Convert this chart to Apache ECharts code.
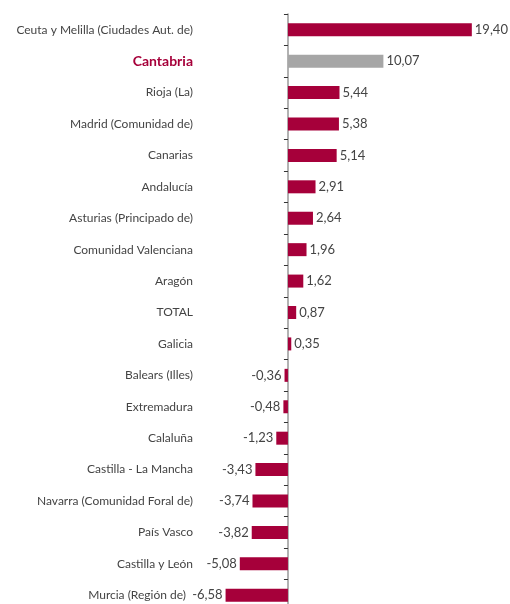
<!DOCTYPE html>
<html>
<head>
<meta charset="utf-8">
<title></title>
<style>
  html, body { margin: 0; padding: 0; background: #fff; }
</style>
</head>
<body>
<div id="container" style="height: 604px; width: 510px"></div>
<script type="text/javascript" src="https://cdn.jsdelivr.net/npm/echarts@6/dist/echarts.min.js"></script>
<script type="text/javascript">
var regiones = [
    'Ceuta y Melilla (Ciudades Aut. de)',
    'Cantabria',
    'Rioja (La)',
    'Madrid (Comunidad de)',
    'Canarias',
    'Andalucía',
    'Asturias (Principado de)',
    'Comunidad Valenciana',
    'Aragón',
    'TOTAL',
    'Galicia',
    'Balears (Illes)',
    'Extremadura',
    'Calaluña',
    'Castilla - La Mancha',
    'Navarra (Comunidad Foral de)',
    'País Vasco',
    'Castilla y León',
    'Murcia (Región de)'
];
var valores = [19.40, 10.07, 5.44, 5.38, 5.14, 2.91, 2.64, 1.96, 1.62, 0.87,
    0.35, -0.36, -0.48, -1.23, -3.43, -3.74, -3.82, -5.08, -6.58];
var destacada = 'Cantabria';

var rojo = '#a6003a';
var gris = '#a6a6a6';
var fuente = 'Lato';

function coma(v) {
    return v.toFixed(2).replace('.', ',');
}

var dom = document.getElementById('container');
var myChart = echarts.init(dom);

var option = {
    animation: false,
    // la rejilla sobresale por abajo: la última fila queda cortada como en el original
    grid: { left: 196, width: 309, top: 14, height: 597, outerBoundsMode: 'none' },
    xAxis: {
        type: 'value',
        min: -9.7,
        max: 22.9,
        show: false
    },
    yAxis: [{
        type: 'category',
        data: regiones,
        inverse: true,
        position: 'left',
        axisLine: { show: false, onZero: false },
        axisTick: { show: false },
        axisLabel: {
            margin: 3,
            fontFamily: fuente,
            fontSize: 12,
            color: '#444',
            formatter: function (v, i) {
                if (v === destacada) return '{d|' + v + '}';
                // la etiqueta de la barra más larga negativa choca con el texto
                if (i === regiones.length - 1) return '{m|' + v + '}';
                return v;
            },
            rich: {
                d: { fontFamily: fuente, fontSize: 14, fontWeight: 'bold', color: rojo },
                m: { fontFamily: fuente, fontSize: 12, color: '#444', padding: [0, 7, 0, 0] }
            }
        }
    }, {
        type: 'category',
        data: regiones,
        inverse: true,
        position: 'left',
        axisLine: { show: true, onZero: true, lineStyle: { color: '#999', width: 1.5 } },
        axisTick: { show: true, length: 4, lineStyle: { color: '#333' } },
        axisLabel: { show: false }
    }],
    series: [{
        type: 'bar',
        yAxisIndex: 0,
        barWidth: 13,
        data: valores.map(function (v, i) {
            return {
                value: v,
                itemStyle: { color: regiones[i] === destacada ? gris : rojo },
                label: { position: v < 0 ? 'left' : 'right' }
            };
        }),
        label: {
            show: true,
            distance: 3,
            fontFamily: fuente,
            fontSize: 13,
            color: '#444',
            formatter: function (p) { return coma(p.value); }
        }
    }]
};

myChart.setOption(option);
</script>
</body>
</html>
